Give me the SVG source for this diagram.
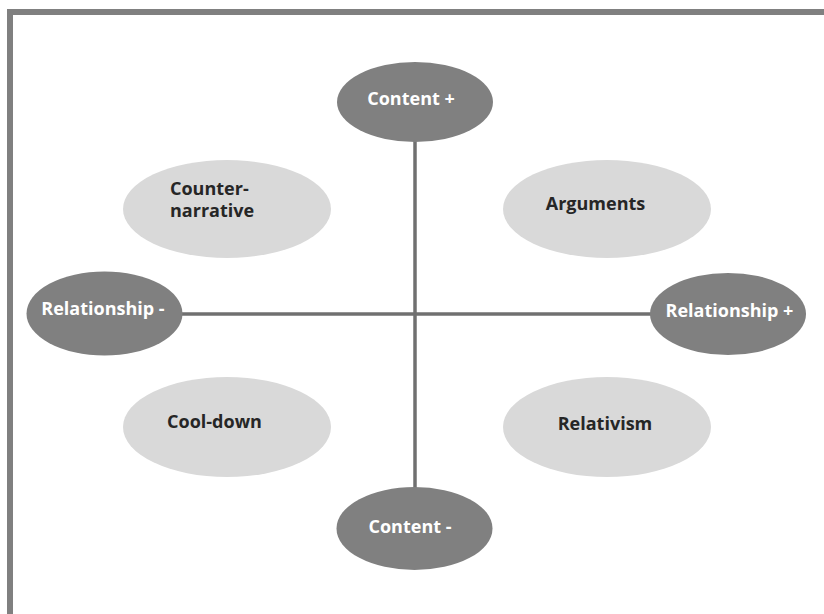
<svg xmlns="http://www.w3.org/2000/svg" width="824" height="614" viewBox="0 0 824 614">
  <style>
    .axis { stroke: #707070; stroke-width: 3.5; fill: none; }
    .pole { fill: #808080; }
    .zone { fill: #d9d9d9; }
    .lbl { font-family: "Open Sans", "Noto Sans", "DejaVu Sans", sans-serif; font-weight: bold; font-size: 18px; }
    .lbl-pole { fill: #ffffff; text-anchor: middle; }
    .lbl-zone { fill: #262626; text-anchor: middle; }
  </style>
  <rect width="824" height="614" fill="#ffffff"/>
  <!-- frame -->
  <path d="M10 614 V12 H824" fill="none" stroke="#808080" stroke-width="6"/>

  <!-- quadrant areas -->
  <g id="counter-narrative">
    <ellipse class="zone" cx="227" cy="209" rx="104" ry="49"/>
    <text class="lbl" fill="#262626" x="170" y="195">Counter-</text>
    <text class="lbl" fill="#262626" x="170" y="217">narrative</text>
  </g>
  <g id="arguments">
    <ellipse class="zone" cx="607" cy="209" rx="104" ry="49"/>
    <text class="lbl lbl-zone" x="595.5" y="210">Arguments</text>
  </g>
  <g id="cool-down">
    <ellipse class="zone" cx="227" cy="427" rx="104" ry="50"/>
    <text class="lbl lbl-zone" x="214.5" y="428">Cool-down</text>
  </g>
  <g id="relativism">
    <ellipse class="zone" cx="607" cy="427" rx="104" ry="50"/>
    <text class="lbl lbl-zone" x="605" y="430">Relativism</text>
  </g>

  <!-- axes -->
  <g id="connectors">
    <line class="axis" x1="415" y1="140" x2="415" y2="489"/>
    <line class="axis" x1="181" y1="314" x2="652" y2="314"/>
  </g>

  <!-- axis poles -->
  <g id="content-plus">
    <ellipse class="pole" cx="415" cy="102" rx="78" ry="40"/>
    <text class="lbl lbl-pole" x="411" y="105">Content +</text>
  </g>
  <g id="content-minus">
    <ellipse class="pole" cx="414.5" cy="528.5" rx="78" ry="41.5"/>
    <text class="lbl lbl-pole" x="410" y="533">Content -</text>
  </g>
  <g id="relationship-minus">
    <ellipse class="pole" cx="104.5" cy="313.5" rx="78" ry="42"/>
    <text class="lbl lbl-pole" x="103" y="315">Relationship -</text>
  </g>
  <g id="relationship-plus">
    <ellipse class="pole" cx="728" cy="314" rx="78" ry="41"/>
    <text class="lbl lbl-pole" x="729.5" y="317">Relationship +</text>
  </g>
</svg>
